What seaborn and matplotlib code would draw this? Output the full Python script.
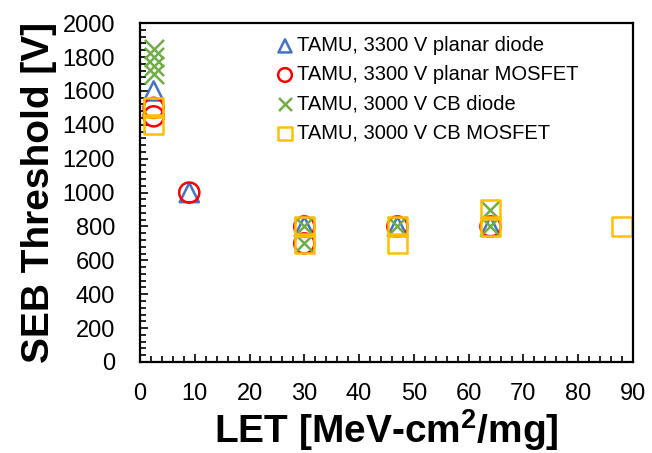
import pandas as pd
import matplotlib
matplotlib.use('Agg')
import matplotlib.pyplot as plt
import seaborn as sns
from matplotlib.ticker import MultipleLocator

# data
planar_diode_let = [2.5, 9, 30, 47, 64]
planar_diode_v = [1600, 1000, 800, 800, 800]

planar_mosfet_let = [2.5, 2.5, 9, 30, 30, 47, 64]
planar_mosfet_v = [1500, 1450, 1000, 800, 700, 800, 800]

cb_diode_let = [2.5, 2.5, 2.5, 2.5, 30, 30, 47, 64, 64]
cb_diode_v = [1850, 1800, 1750, 1700, 800, 700, 800, 900, 800]

cb_mosfet_let = [2.5, 2.5, 30, 30, 47, 47, 64, 64, 88]
cb_mosfet_v = [1500, 1400, 800, 700, 800, 700, 900, 800, 800]

series_names = ['TAMU, 3300 V planar diode', 'TAMU, 3300 V planar MOSFET',
                'TAMU, 3000 V CB diode', 'TAMU, 3000 V CB MOSFET']

sns.set_style('white')
plt.rcParams['font.family'] = ['Liberation Sans', 'DejaVu Sans']
plt.rcParams['text.color'] = 'black'
plt.rcParams['axes.labelcolor'] = 'black'
plt.rcParams['xtick.color'] = 'black'
plt.rcParams['ytick.color'] = 'black'

fig = plt.figure(figsize=(6.52, 4.53), dpi=100)
ax = fig.add_axes([0.2147, 0.2009, 0.756, 0.748])

# one scatter per series, hollow markers like the excel chart
sns.scatterplot(x=planar_diode_let, y=planar_diode_v, ax=ax, marker='^', s=190,
                facecolor='none', edgecolor='#4472C4', linewidth=1.8, label=series_names[0])
sns.scatterplot(x=planar_mosfet_let, y=planar_mosfet_v, ax=ax, marker='o', s=210,
                facecolor='none', edgecolor='#FF0000', linewidth=1.8, label=series_names[1])
sns.scatterplot(x=cb_diode_let, y=cb_diode_v, ax=ax, marker='x', s=190,
                color='#70AD47', linewidth=1.8, label=series_names[2])
sns.scatterplot(x=cb_mosfet_let, y=cb_mosfet_v, ax=ax, marker='s', s=190,
                facecolor='none', edgecolor='#FFC000', linewidth=1.8, label=series_names[3])

ax.set_xlim(0, 90)
ax.set_ylim(0, 2000)
ax.xaxis.set_major_locator(MultipleLocator(10))
ax.xaxis.set_minor_locator(MultipleLocator(2))
ax.yaxis.set_major_locator(MultipleLocator(200))
ax.yaxis.set_minor_locator(MultipleLocator(40))
ax.tick_params(which='both', direction='in', bottom=True, left=True, top=False, right=False,
               width=1.2, color='black')
ax.tick_params(which='major', length=6, labelsize=17)
ax.tick_params(which='minor', length=4)
ax.tick_params(axis='y', which='major', pad=18)
ax.tick_params(axis='x', which='major', pad=15)

for spine in ax.spines.values():
    spine.set_color('black')
    spine.set_linewidth(1.6)

ax.set_xlabel('LET [MeV-cm$^\\mathregular{2}$/mg]', fontsize=28, fontweight='bold', labelpad=2)
ax.set_ylabel('SEB Threshold [V]', fontsize=28, fontweight='bold', labelpad=4)

leg = ax.legend(loc='upper left', bbox_to_anchor=(0.237, 1.015), frameon=False, fontsize=14.5,
                markerscale=0.68, handletextpad=0.1, handlelength=1.0, labelspacing=0.5)

fig.savefig('out.png', dpi=100)
